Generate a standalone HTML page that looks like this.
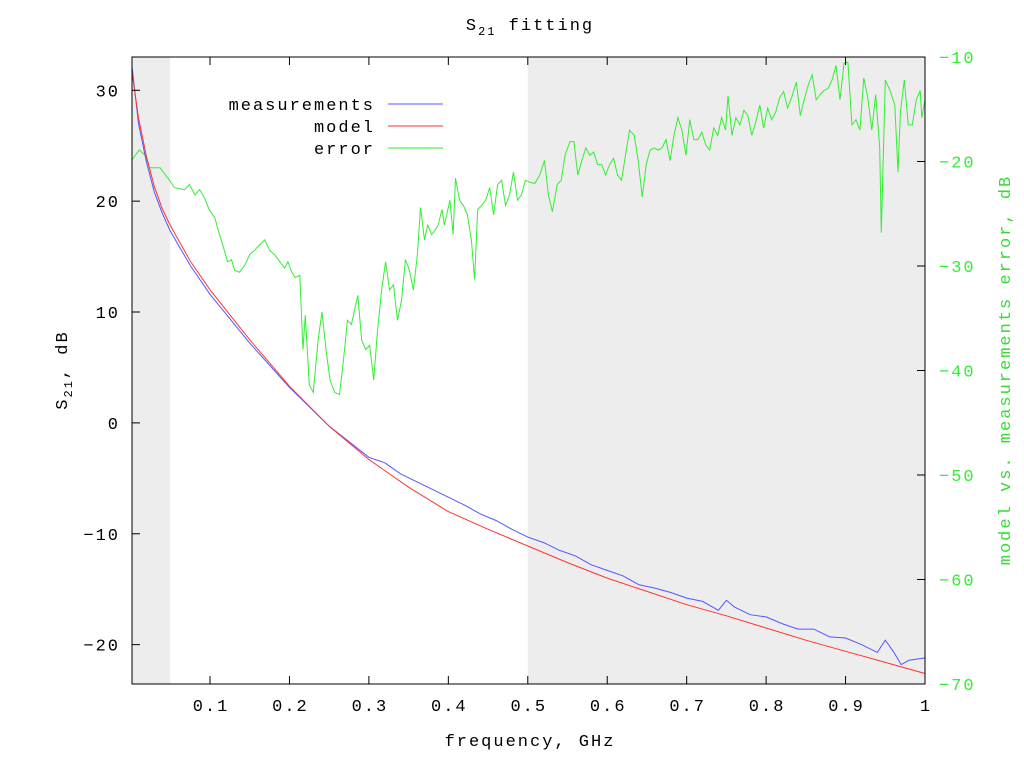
<!DOCTYPE html>
<html><head><meta charset="utf-8"><style>
html,body{margin:0;padding:0;background:#fff;}
svg text{font-family:"Liberation Mono","DejaVu Sans Mono",monospace;font-size:17px;letter-spacing:2px;}
</style></head><body>
<svg id="chart" width="1024" height="768" viewBox="0 0 1024 768" xmlns="http://www.w3.org/2000/svg">
<g id="bg"></g>
<g id="grid"></g>
<g id="series"></g>
<g id="axes"></g>
<text x="530" y="30" text-anchor="middle">S<tspan font-size="12" dy="5">21</tspan><tspan dy="-5"> fitting</tspan></text>
<text x="530" y="746" text-anchor="middle">frequency, GHz</text>
<text transform="translate(67,370) rotate(-90)" text-anchor="middle">S<tspan font-size="12" dy="5">21</tspan><tspan dy="-5">, dB</tspan></text>
<text transform="translate(1010,370) rotate(-90)" text-anchor="middle" fill="#33dd33">model vs. measurements error, dB</text>
<g id="legend"></g>
</svg>
<script>
const ns="http://www.w3.org/2000/svg";
const modelFreq=[0.002,0.01,0.02,0.03,0.04,0.05,0.075,0.1,0.15,0.2,0.25,0.3,0.35,0.4,0.45,0.5,0.55,0.6,0.65,0.7,0.75,0.8,0.85,0.9,0.95,1.0];
const modelVals=[31.5,27.5,24,21.3,19.3,17.8,14.6,12,7.5,3.3,-0.3,-3.3,-5.8,-8,-9.6,-11.1,-12.6,-14,-15.2,-16.4,-17.4,-18.5,-19.6,-20.6,-21.6,-22.6];
const measFreq=[0.002,0.01,0.02,0.03,0.04,0.05,0.075,0.1,0.15,0.2,0.25,0.3,0.32,0.34,0.36,0.38,0.4,0.42,0.44,0.46,0.48,0.5,0.52,0.54,0.56,0.58,0.6,0.62,0.64,0.66,0.68,0.7,0.72,0.74,0.75,0.76,0.78,0.8,0.82,0.84,0.86,0.88,0.9,0.92,0.94,0.95,0.96,0.97,0.98,1.0];
const measVals=[32,27,23.5,20.8,18.9,17.3,14.2,11.6,7.2,3.2,-0.3,-3.1,-3.6,-4.6,-5.3,-6.0,-6.7,-7.4,-8.2,-8.8,-9.6,-10.3,-10.8,-11.5,-12.0,-12.8,-13.3,-13.8,-14.6,-14.9,-15.3,-15.8,-16.1,-16.9,-16.0,-16.6,-17.3,-17.5,-18.1,-18.6,-18.6,-19.3,-19.4,-20.0,-20.7,-19.6,-20.6,-21.8,-21.4,-21.2];
const errFreq=[0.001,0.011,0.018,0.024,0.037,0.049,0.055,0.068,0.074,0.081,0.087,0.093,0.099,0.106,0.112,0.118,0.122,0.127,0.131,0.137,0.144,0.150,0.156,0.162,0.169,0.175,0.181,0.188,0.194,0.198,0.203,0.207,0.213,0.217,0.220,0.225,0.230,0.236,0.241,0.246,0.251,0.257,0.263,0.268,0.273,0.278,0.282,0.286,0.291,0.296,0.301,0.306,0.311,0.316,0.321,0.326,0.331,0.336,0.341,0.346,0.351,0.356,0.361,0.365,0.370,0.374,0.379,0.383,0.387,0.392,0.395,0.402,0.406,0.409,0.414,0.419,0.424,0.429,0.433,0.437,0.442,0.447,0.452,0.457,0.462,0.467,0.472,0.477,0.482,0.487,0.492,0.497,0.503,0.509,0.515,0.521,0.526,0.531,0.537,0.542,0.547,0.553,0.558,0.563,0.568,0.573,0.578,0.583,0.588,0.593,0.598,0.603,0.608,0.613,0.618,0.623,0.628,0.634,0.639,0.644,0.649,0.654,0.659,0.664,0.669,0.674,0.679,0.684,0.689,0.694,0.699,0.704,0.709,0.714,0.719,0.724,0.729,0.734,0.739,0.744,0.749,0.752,0.757,0.762,0.767,0.772,0.777,0.782,0.787,0.792,0.797,0.802,0.807,0.812,0.817,0.822,0.827,0.832,0.838,0.843,0.848,0.853,0.858,0.863,0.868,0.873,0.878,0.883,0.888,0.893,0.898,0.903,0.908,0.913,0.918,0.923,0.928,0.933,0.938,0.943,0.945,0.950,0.956,0.962,0.966,0.969,0.974,0.979,0.984,0.989,0.994,0.996,1.000];
const errVals=[-19.9,-18.9,-19.4,-20.6,-20.6,-21.8,-22.5,-22.7,-22.2,-23.2,-22.7,-23.5,-24.6,-25.4,-27.0,-28.5,-29.6,-29.4,-30.4,-30.6,-29.9,-28.9,-28.5,-28.0,-27.5,-28.5,-28.9,-29.6,-30.2,-29.6,-30.6,-31.1,-30.9,-38.0,-34.7,-41.4,-42.1,-37.1,-34.4,-38.0,-40.9,-42.1,-42.3,-39.0,-35.2,-35.6,-34.2,-32.8,-37.1,-38.0,-37.6,-40.9,-36.1,-32.3,-29.6,-32.3,-31.8,-35.2,-33.3,-29.4,-30.4,-32.3,-28.9,-24.4,-27.5,-26.1,-27.0,-26.6,-26.1,-24.6,-26.1,-23.7,-27.0,-21.6,-23.7,-24.2,-25.1,-27.5,-31.3,-24.6,-24.2,-23.7,-22.5,-25.1,-22.2,-21.8,-24.2,-23.2,-21.0,-23.7,-23.2,-21.8,-22.0,-22.1,-21.3,-19.9,-23.2,-24.8,-22.2,-21.8,-19.4,-18.1,-18.1,-21.3,-19.9,-18.7,-19.4,-19.1,-20.3,-20.3,-21.3,-20.3,-19.7,-21.3,-21.8,-19.4,-17.0,-17.5,-19.9,-23.4,-20.3,-18.9,-18.7,-18.9,-18.7,-17.9,-19.9,-17.5,-15.8,-17.0,-19.4,-16.0,-17.9,-17.9,-17.2,-18.4,-18.9,-16.8,-17.5,-15.8,-17.0,-13.7,-17.5,-15.8,-16.5,-15.1,-15.6,-17.5,-16.2,-14.6,-16.8,-14.9,-16.0,-15.3,-13.9,-13.3,-14.9,-13.9,-12.4,-15.6,-14.1,-12.7,-11.7,-14.1,-13.6,-13.2,-13.0,-12.2,-10.8,-14.1,-10.6,-10.5,-16.5,-16.0,-17.0,-12.0,-13.9,-17.0,-13.6,-18.7,-26.8,-12.2,-13.2,-14.6,-21.0,-15.3,-12.2,-16.5,-16.5,-14.1,-13.2,-15.8,-14.1];
const xTicks=[0.1,0.2,0.3,0.4,0.5,0.6,0.7,0.8,0.9,1];
const xTickLabels=["0.1","0.2","0.3","0.4","0.5","0.6","0.7","0.8","0.9","1"];
const yTicks=[-20,-10,0,10,20,30];
const y2Ticks=[-70,-60,-50,-40,-30,-20,-10];
const shadeRanges=[[0.0018,0.05],[0.5,1.0]];

const L=132,R=925,T=57,B=684;
const XMIN=0.0018,XMAX=1.0,YMIN=-23.55,YMAX=33.0,Y2MIN=-70,Y2MAX=-10;
const sx=v=>L+(v-XMIN)/(XMAX-XMIN)*(R-L);
const sy=v=>B-(v-YMIN)/(YMAX-YMIN)*(B-T);
const sy2=v=>B-(v-Y2MIN)/(Y2MAX-Y2MIN)*(B-T);
function mk(tag,attrs,parent){const e=document.createElementNS(ns,tag);for(const k in attrs)e.setAttribute(k,attrs[k]);parent.appendChild(e);return e;}
const bg=document.getElementById('bg'),ser=document.getElementById('series'),ax=document.getElementById('axes'),lg=document.getElementById('legend');
shadeRanges.forEach((r,i)=>{
  const e=mk('rect',{x:sx(r[0]),y:T,width:sx(r[1])-sx(r[0]),height:B-T,fill:'#ededed'},bg);
  
  
});
function line(fx,fy,ysc,color,name){
  const pts=fx.map((f,i)=>sx(f).toFixed(1)+','+ysc(fy[i]).toFixed(1)).join(' ');
  const e=mk('polyline',{points:pts,fill:'none',stroke:color,'stroke-width':1},ser);
  
  
}
line(errFreq,errVals,sy2,'#33ee33','error-line');
line(measFreq,measVals,sy,'#5555ff','measurements-line');
line(modelFreq,modelVals,sy,'#ff3333','model-line');
const fr=mk('rect',{x:L,y:T,width:R-L,height:B-T,fill:'none',stroke:'#000','stroke-width':1},ax);


xTicks.forEach((t,i)=>{
  const x=sx(t);
  mk('line',{x1:x,y1:B,x2:x,y2:B-8,stroke:'#000'},ax);
  mk('line',{x1:x,y1:T,x2:x,y2:T+8,stroke:'#000'},ax);
  const e=mk('text',{x:x+1,y:B+27,'text-anchor':'middle'},ax);e.textContent=xTickLabels[i];
  
  
});
yTicks.forEach(t=>{
  const y=sy(t);
  mk('line',{x1:L,y1:y,x2:L+8,y2:y,stroke:'#000'},ax);
  const e=mk('text',{x:L-12,y:y+6,'text-anchor':'end'},ax);e.textContent=String(t).replace('-','\u2212');
  
  
});
y2Ticks.forEach(t=>{
  const y=sy2(t);
  mk('line',{x1:R,y1:y,x2:R-8,y2:y,stroke:'#000'},ax);
  const e=mk('text',{x:R+14,y:y+6,'text-anchor':'start',fill:'#33ee33'},ax);e.textContent=String(t).replace('-','\u2212');
  
  
});
[['measurements','#5555ff',104],['model','#ff3333',126],['error','#33ee33',148]].forEach(d=>{
  const t=mk('text',{x:375,y:d[2]+6,'text-anchor':'end'},lg);t.textContent=d[0];
  
  
  const l=mk('line',{x1:388,y1:d[2],x2:443,y2:d[2],stroke:d[1]},lg);
  
  
});
</script>
</body></html>
